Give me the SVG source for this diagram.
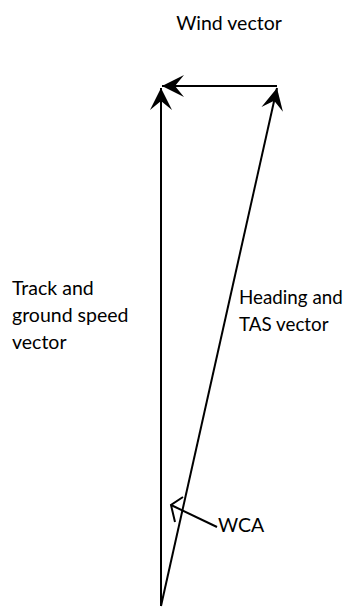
<svg xmlns="http://www.w3.org/2000/svg" width="346" height="609" viewBox="0 0 346 609">
<style>
  .lbl { font-family: Lato, "Liberation Sans", sans-serif; font-size: 19.5px; fill: #000; }
  .hd { font-size: 18.8px; }
  .vec { stroke: #000; stroke-width: 2; fill: none; }
</style>
<defs>
  <marker id="stealth" markerUnits="userSpaceOnUse" viewBox="-24 -12 26 24" refX="0" refY="0" markerWidth="26" markerHeight="24" orient="auto" overflow="visible">
    <path d="M0,0 L-22,-11 L-13,0 L-22,11 Z" fill="#000"/>
  </marker>
</defs>
<rect width="346" height="609" fill="#fff"/>
<g id="connectors">
  <line class="vec" x1="161" y1="606" x2="161" y2="88" marker-end="url(#stealth)"/>
  <line class="vec" x1="161" y1="606" x2="277" y2="88" marker-end="url(#stealth)"/>
  <line class="vec" x1="277" y1="86" x2="162" y2="86" marker-end="url(#stealth)"/>
  <line class="vec" x1="217" y1="527" x2="171" y2="505"/>
  <polyline class="vec" points="183,497 171,505 175,522"/>
</g>
<g id="wind-label"><text class="lbl" x="229" y="30" text-anchor="middle">Wind vector</text></g>
<g id="track-label"><text class="lbl" x="12" y="295">Track and</text><text class="lbl" x="12" y="322">ground speed</text><text class="lbl" x="12" y="349">vector</text></g>
<g id="heading-label"><text class="lbl hd" x="239" y="304">Heading and</text><text class="lbl hd" x="239" y="331">TAS vector</text></g>
<g id="wca-label"><text class="lbl" x="218" y="532">WCA</text></g>
</svg>
